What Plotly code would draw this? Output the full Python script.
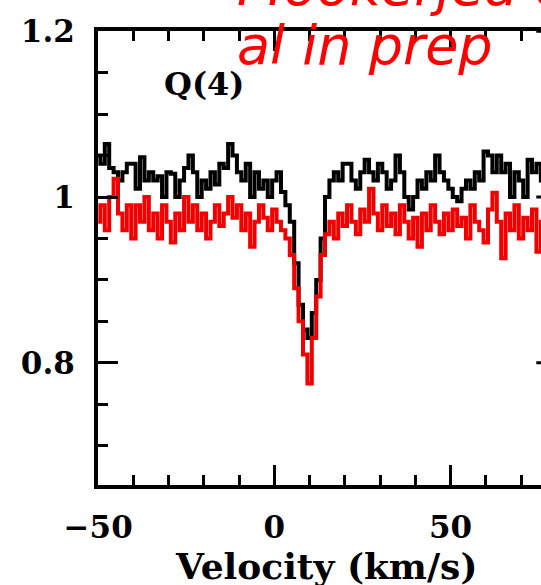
import plotly.graph_objects as go

# Velocity channels (km/s)
velocity = [
    -50.0, -48.75, -47.5, -46.25, -45.0, -43.75, -42.5, -41.25, -40.0, -38.75,
    -37.5, -36.25, -35.0, -33.75, -32.5, -31.25, -30.0, -28.75, -27.5, -26.25,
    -25.0, -23.75, -22.5, -21.25, -20.0, -18.75, -17.5, -16.25, -15.0, -13.75,
    -12.5, -11.25, -10.0, -8.75, -7.5, -6.25, -5.0, -3.75, -2.5, -1.25,
    0.0, 1.25, 2.5, 3.75, 5.0, 6.25, 7.5, 8.75, 10.0, 11.25,
    12.5, 13.75, 15.0, 16.25, 17.5, 18.75, 20.0, 21.25, 22.5, 23.75,
    25.0, 26.25, 27.5, 28.75, 30.0, 31.25, 32.5, 33.75, 35.0, 36.25,
    37.5, 38.75, 40.0, 41.25, 42.5, 43.75, 45.0, 46.25, 47.5, 48.75,
    50.0, 51.25, 52.5, 53.75, 55.0, 56.25, 57.5, 58.75, 60.0, 61.25,
    62.5, 63.75, 65.0, 66.25, 67.5, 68.75, 70.0, 71.25, 72.5, 73.75,
    75.0, 76.25, 77.5,
]

# Black spectrum
flux_black = [
    1.05, 1.04, 1.064, 1.035, 1.03, 1.02, 1.03, 1.04, 1.04, 1.01,
    1.048, 1.02, 1.03, 1.02, 1.025, 1.00, 1.03, 1.028, 1.00, 1.02,
    1.035, 1.05, 1.03, 1.00, 1.02, 1.01, 1.03, 1.015, 1.04, 1.035,
    1.064, 1.05, 1.03, 1.02, 1.04, 1.00, 1.03, 1.01, 1.02, 1.00,
    1.02, 1.03, 1.006, 0.99, 0.97, 0.92, 0.87, 0.84, 0.83, 0.86,
    0.90, 0.95, 1.00, 1.02, 1.03, 1.02, 1.04, 1.04, 1.02, 1.01,
    1.03, 1.045, 1.03, 1.02, 1.04, 1.03, 1.01, 1.02, 1.05, 1.03,
    1.00, 0.985, 1.00, 1.02, 1.01, 1.03, 1.02, 1.05, 1.03, 1.02,
    1.01, 1.00, 0.995, 1.01, 1.02, 1.01, 1.03, 1.02, 1.055, 1.05,
    1.03, 1.05, 1.03, 1.04, 1.00, 1.03, 1.02, 1.00, 1.045, 1.03,
    1.04, 1.02, 1.03,
]

# Red spectrum
flux_red = [
    0.97, 0.99, 0.96, 1.00, 1.022, 0.98, 0.96, 0.99, 0.95, 0.99,
    0.97, 1.00, 0.96, 0.98, 0.95, 0.99, 0.97, 0.945, 0.98, 0.96,
    1.00, 0.97, 0.99, 0.96, 0.98, 0.95, 0.97, 0.99, 0.965, 0.98,
    1.00, 0.975, 0.99, 0.96, 0.98, 0.94, 0.97, 0.99, 0.975, 0.96,
    0.985, 0.97, 0.96, 0.95, 0.93, 0.89, 0.85, 0.81, 0.775, 0.83,
    0.88, 0.93, 0.955, 0.97, 0.95, 0.98, 0.965, 0.99, 0.97, 0.955,
    0.985, 0.97, 1.01, 0.98, 0.96, 0.99, 0.965, 0.98, 0.955, 0.99,
    0.97, 0.95, 0.975, 0.94, 0.98, 0.96, 0.99, 0.97, 0.955, 0.98,
    0.96, 0.985, 0.965, 0.975, 0.95, 0.99, 0.97, 0.96, 0.945, 0.985,
    1.005, 0.97, 0.926, 0.98, 0.96, 0.99, 0.95, 0.975, 0.96, 0.985,
    0.934, 0.97, 0.98,
]

x_range = [-50.05, 75.67]
y_range = [0.6525, 1.2003]
right_tick_vals = [0.8, 1.0, 1.2]

fig = go.Figure()
fig.add_trace(go.Scatter(x=velocity, y=flux_black, mode="lines",
                         line=dict(color="#000000", width=4, shape="hvh"),
                         showlegend=False))
fig.add_trace(go.Scatter(x=velocity, y=flux_red, mode="lines",
                         line=dict(color="#f20000", width=4, shape="hvh"),
                         showlegend=False))

# right-hand major ticks (right spine lies just beyond the cropped edge at 80 km/s)
for yv in right_tick_vals:
    fig.add_shape(type="line", xref="x", yref="y", x0=74.33, x1=80, y0=yv, y1=yv,
                  line=dict(color="black", width=3), layer="below")

tickfont = dict(family="DejaVu Serif", size=31, color="black", weight="bold")

fig.update_xaxes(range=x_range, showgrid=False, zeroline=False,
                 showline=True, linewidth=4, linecolor="black", mirror="ticks",
                 ticks="inside", ticklen=20, tickwidth=3, tickcolor="black",
                 tick0=0, dtick=50, tickfont=tickfont, ticklabelstandoff=12,
                 minor=dict(ticks="inside", ticklen=10, tickwidth=3,
                            tickcolor="black", dtick=10, tick0=0, showgrid=False))
fig.update_yaxes(range=y_range, showgrid=False, zeroline=False,
                 showline=True, linewidth=4, linecolor="black", mirror=False,
                 ticks="inside", ticklen=20, tickwidth=3, tickcolor="black",
                 tick0=0, dtick=0.2, tickfont=tickfont, ticklabelstandoff=13,
                 minor=dict(ticks="inside", ticklen=10, tickwidth=3,
                            tickcolor="black", dtick=0.05, tick0=0, showgrid=False))

L, T, W, H = 98, 31, 541, 585
B = 100
pw, ph = W - L, H - T - B

def px(x):
    return (x - L) / pw

def py(y):
    return (H - B - y) / ph

fig.add_annotation(text="Q(4)", xref="paper", yref="paper", x=px(162), y=py(84),
                   xanchor="left", yanchor="middle", showarrow=False,
                   font=dict(family="DejaVu Serif", size=32, color="black", weight="bold"))
fig.add_annotation(text="Velocity (km/s)", xref="paper", yref="paper", x=px(326), y=py(566),
                   xanchor="center", yanchor="middle", showarrow=False,
                   font=dict(family="DejaVu Serif", size=36, color="black", weight="bold"))
fig.add_annotation(text="Mookerjea et", xref="paper", yref="paper", x=px(235), y=py(-14),
                   xanchor="left", yanchor="middle", showarrow=False,
                   font=dict(family="DejaVu Sans", size=54, color="#ff0000", style="italic"))
fig.add_annotation(text="al in prep", xref="paper", yref="paper", x=px(235), y=py(45),
                   xanchor="left", yanchor="middle", showarrow=False,
                   font=dict(family="DejaVu Sans", size=54, color="#ff0000", style="italic"))

fig.update_layout(width=W, height=H, margin=dict(l=L, r=0, t=T, b=B, pad=0),
                  paper_bgcolor="white", plot_bgcolor="white", showlegend=False)

fig.write_html("out.html")
